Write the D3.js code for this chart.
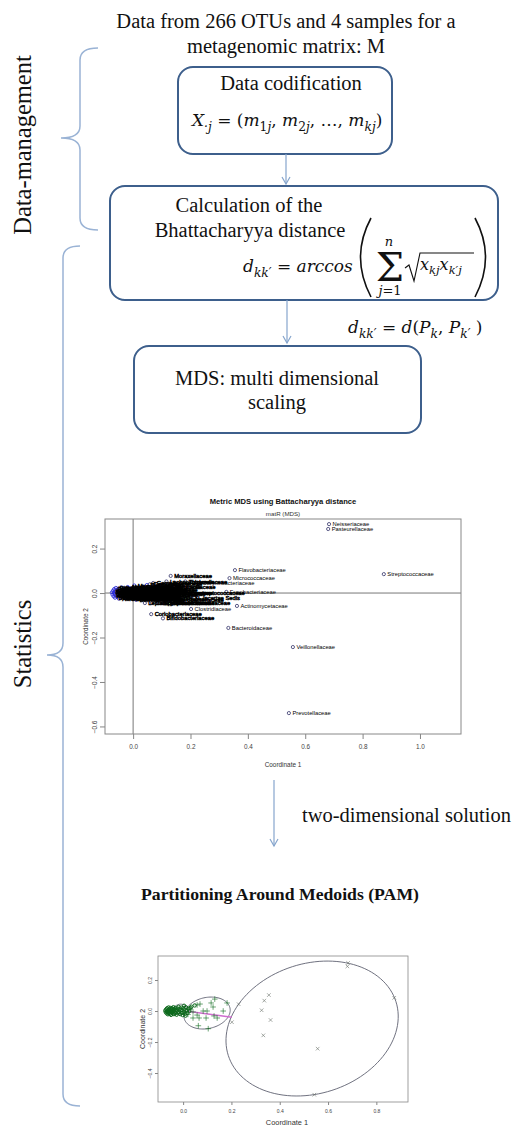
<!DOCTYPE html>
<html lang="en">
  <head>
    <meta charset='utf-8'>
    <script src='https://d3js.org/d3.v7.min.js'></script>
    <title>OTU distance workflow</title>
    <style>
      body {
        margin: 0px;
        background: #fff;
      }
      .flow-text {
        font-family: 'Liberation Serif', 'Times New Roman', Times, 'DejaVu Serif', serif;
        fill: #111;
      }
      .math {
        font-family: 'DejaVu Serif', 'Liberation Serif', serif;
        fill: #111;
      }
      .r-text {
        font-family: 'Liberation Sans', Arial, sans-serif;
        fill: #333;
      }
      .tick text {
        font-family: 'Liberation Sans', Arial, sans-serif;
        fill: #444;
      }
    </style>
  </head>
  <body>
    <svg id='viz' width='517' height='1126'></svg>
    <script>

      // texts of the workflow
      const titleLines = ['Data from 266 OTUs and 4 samples for a', 'metagenomic matrix: M'];
      const codifLabel = 'Data codification';
      const distLines = ['Calculation of the', 'Bhattacharyya distance'];
      const mdsLines = ['MDS: multi dimensional', 'scaling'];
      const solutionLabel = 'two-dimensional solution';
      const pamTitle = 'Partitioning Around Medoids (PAM)';

      // MDS coordinates: [family, coordinate 1, coordinate 2]
      // cluster 3 of PAM (big ellipse)
      const farOTUs = [
        ['Neisseriaceae', 0.683, 0.310],
        ['Pasteurellaceae', 0.680, 0.288],
        ['Streptococcaceae', 0.874, 0.085],
        ['Flavobacteriaceae', 0.355, 0.103],
        ['Micrococcaceae', 0.336, 0.067],
        ['Corynebacteriaceae', 0.230, 0.044],
        ['Fusobacteriaceae', 0.325, 0.005],
        ['Actinomycetaceae', 0.362, -0.058],
        ['Clostridiaceae', 0.202, -0.072],
        ['Bacteroidaceae', 0.332, -0.157],
        ['Veillonellaceae', 0.557, -0.243],
        ['Prevotellaceae', 0.543, -0.540]
      ];
      // cluster 2 (middle ellipse)
      const midOTUs = [
        ['Lachnospiraceae', 0.116, 0.052],
        ['Moraxellaceae', 0.131, 0.077],
        ['Gemellaceae', 0.070, 0.045],
        ['Carnobacteriaceae', 0.058, 0.039],
        ['Lactobacillaceae', 0.124, 0.026],
        ['Peptostreptococcaceae', 0.166, 0.000],
        ['Staphylococcaceae', 0.083, 0.000],
        ['Ruminococcaceae', 0.099, 0.000],
        ['Porphyromonadaceae', 0.041, -0.006],
        ['Propionibacteriaceae', 0.058, -0.026],
        ['Leptotrichiaceae', 0.041, -0.045],
        ['Campylobacteraceae', 0.066, -0.045],
        ['Erysipelotrichaceae', 0.095, -0.045],
        ['Enterobacteriaceae', 0.128, -0.032],
        ['Pseudomonadaceae', 0.141, -0.045],
        ['Clostridiales Family XI. Incertae Sedis', 0.020, -0.022],
        ['Coriobacteriaceae', 0.063, -0.095],
        ['Bifidobacteriaceae', 0.104, -0.114],
        ['Tissierellaceae', 0.182, 0.052],
        ['Streptomycetaceae', 0.029, 0.013]
      ];
      // cluster 1 (small ellipse, the crowd near the origin)
      const coreOTUs = [
        ['Bacillaceae', -0.074, 0.003], ['Enterococcaceae', -0.072, -0.007],
        ['Leuconostocaceae', -0.070, 0.011], ['Aerococcaceae', -0.068, -0.015],
        ['Listeriaceae', -0.067, 0.001], ['Paenibacillaceae', -0.066, 0.018],
        ['Planococcaceae', -0.064, -0.005], ['Burkholderiaceae', -0.063, -0.021],
        ['Comamonadaceae', -0.062, 0.008], ['Rhodobacteraceae', -0.060, 0.023],
        ['Caulobacteraceae', -0.059, -0.012], ['Sphingomonadaceae', -0.058, 0.000],
        ['Bradyrhizobiaceae', -0.056, 0.014], ['Methylobacteriaceae', -0.055, -0.018],
        ['Rhizobiaceae', -0.054, 0.006], ['Xanthomonadaceae', -0.052, -0.004],
        ['Vibrionaceae', -0.051, 0.020], ['Aeromonadaceae', -0.050, -0.025],
        ['Shewanellaceae', -0.048, 0.010], ['Helicobacteraceae', -0.047, -0.010],
        ['Desulfovibrionaceae', -0.046, 0.002], ['Eubacteriaceae', -0.045, 0.016],
        ['Peptococcaceae', -0.044, -0.016], ['Acidaminococcaceae', -0.042, 0.006],
        ['Mycoplasmataceae', -0.041, -0.002], ['Spirochaetaceae', -0.040, 0.025],
        ['Leptospiraceae', -0.038, -0.020], ['Chlamydiaceae', -0.037, 0.012],
        ['Verrucomicrobiaceae', -0.035, -0.008], ['Nocardiaceae', -0.034, 0.004],
        ['Microbacteriaceae', -0.032, 0.020], ['Cellulomonadaceae', -0.031, -0.014],
        ['Dermabacteraceae', -0.029, 0.008], ['Intrasporangiaceae', -0.027, -0.024],
        ['Gordoniaceae', -0.025, 0.002], ['Nocardioidaceae', -0.023, 0.016],
        ['Thermoactinomycetaceae', -0.021, -0.010], ['Alcaligenaceae', -0.019, 0.027],
        ['Oxalobacteraceae', -0.017, -0.004], ['Legionellaceae', -0.015, 0.012],
        ['Francisellaceae', -0.012, -0.020], ['Cardiobacteriaceae', -0.010, 0.006],
        ['Thermaceae', -0.008, 0.022], ['Deinococcaceae', -0.005, -0.012],
        ['Nostocaceae', -0.003, 0.004], ['Synechococcaceae', 0.000, 0.018],
        ['Chloroflexaceae', 0.003, -0.008], ['Bdellovibrionaceae', 0.006, 0.010],
        ['Myxococcaceae', 0.009, -0.018], ['Geobacteraceae', 0.012, 0.024],
        ['Halomonadaceae', 0.015, 0.002], ['Alteromonadaceae', 0.018, -0.012],
        ['Psychromonadaceae', 0.022, 0.014], ['Idiomarinaceae', 0.026, 0.000],
        ['Rikenellaceae', 0.030, 0.020], ['Sphingobacteriaceae', 0.034, 0.028],
        ['Mycobacteriaceae', 0.004, 0.034], ['Dietziaceae', 0.048, 0.036],
        ['Brevibacteriaceae', -0.002, -0.026], ['Dermacoccaceae', 0.010, -0.030]
      ];

      const mdsTicksX = [0, 0.2, 0.4, 0.6, 0.8, 1.0];
      const mdsTicksY = [0.2, 0, -0.2, -0.4, -0.6];
      const pamTicksX = [0, 0.2, 0.4, 0.6, 0.8];
      const pamTicksY = [0.2, 0, -0.2, -0.4];

      // PAM cluster ellipses: centre and two conjugate half-axes (data units)
      const ellipseCenter = [[-0.010, 0.010], [0.099, -0.013], [0.534, -0.113]];
      const ellipseU = [[0.028, 0], [0.095, 0.032], [0.347, 0.174]];
      const ellipseV = [[0, 0.034], [0.013, -0.098], [0.082, -0.399]];
      const medoidLink = [[0.018, -0.002], [0.202, -0.040]];

      const boxColor = '#3d5f8c';
      const arrowColor = '#86a5cd';
      const braceColor = '#9ab3d5';
      const serifSize = 20.5;

      const svg = d3.select('#viz');
      svg.append('rect').attr('width', 517).attr('height', 1126).attr('fill', '#fff');

      //---------- flow chart part ----------
      svg.selectAll('.title').data(titleLines).enter().append('text')
        .attr('class', 'flow-text title')
        .attr('x', 286)
        .attr('y', (d, i) => 28 + i * 25)
        .attr('text-anchor', 'middle')
        .style('font-size', serifSize + 'px')
        .text(d => d);

      // braces
      svg.append('path')
        .attr('d', 'M98,48 Q80,48 80,60 L80,126 Q80,138 61,138 Q80,138 80,150 L80,218 Q80,230 98,230')
        .attr('fill', 'none').attr('stroke', braceColor).attr('stroke-width', 1.5);
      svg.append('path')
        .attr('d', 'M80,246 Q63,246 63,258 L63,643 Q63,655 47,655 Q63,655 63,667 L63,1094 Q63,1106 80,1106')
        .attr('fill', 'none').attr('stroke', braceColor).attr('stroke-width', 1.5);

      const sideLabel = (txt, cy) => svg.append('text')
        .attr('class', 'flow-text')
        .attr('transform', `translate(31,${cy}) rotate(-90)`)
        .attr('text-anchor', 'middle')
        .style('font-size', '24.5px')
        .text(txt);
      sideLabel('Data-management', 145);
      sideLabel('Statistics', 644);

      // rounded boxes
      const boxes = [
        {x: 178, y: 67, w: 214, h: 87},
        {x: 110, y: 186, w: 388, h: 114},
        {x: 134, y: 346, w: 287, h: 87}
      ];
      svg.selectAll('.box').data(boxes).enter().append('rect')
        .attr('class', 'box')
        .attr('x', d => d.x).attr('y', d => d.y)
        .attr('width', d => d.w).attr('height', d => d.h)
        .attr('rx', 15).attr('ry', 15)
        .attr('fill', '#fff').attr('stroke', boxColor).attr('stroke-width', 2);

      const flowText = (txt, x, y) => svg.append('text')
        .attr('class', 'flow-text')
        .attr('x', x).attr('y', y)
        .attr('text-anchor', 'middle')
        .style('font-size', serifSize + 'px')
        .text(txt);
      flowText(codifLabel, 291, 90);
      flowText(distLines[0], 249, 212);
      flowText(distLines[1], 250, 237);
      flowText(mdsLines[0], 277, 385);
      flowText(mdsLines[1], 277, 409);
      svg.append('text').attr('class', 'flow-text')
        .attr('x', 302).attr('y', 822)
        .style('font-size', serifSize + 'px')
        .text(solutionLabel);

      // arrows
      const arrow = (x, y0, y1) => {
        svg.append('line').attr('x1', x).attr('x2', x).attr('y1', y0).attr('y2', y1)
          .attr('stroke', arrowColor).attr('stroke-width', 1.2);
        svg.append('path').attr('d', `M${x - 4},${y1 - 7} L${x},${y1} L${x + 4},${y1 - 7}`)
          .attr('fill', 'none').attr('stroke', arrowColor).attr('stroke-width', 1.2);
      };
      arrow(286, 154, 184);
      arrow(287, 300, 343);
      arrow(274, 780, 846);

      // math: segments are [text, italic, subscript]
      const mathText = (x, y, size, segs) => {
        const t = svg.append('text').attr('class', 'math')
          .attr('x', x).attr('y', y).style('font-size', size + 'px');
        let low = false;
        segs.forEach(s => {
          const ts = t.append('tspan').text(s[0])
            .style('font-style', s[1] ? 'italic' : 'normal');
          if (s[2]) {
            ts.style('font-size', (size * 0.72) + 'px');
            if (!low) ts.attr('dy', size * 0.28);
            low = true;
          } else if (low) {
            ts.attr('dy', -size * 0.28);
            low = false;
          }
        });
        return t;
      };

      mathText(192, 126, 17, [
        ['X', 1, 0], ['\u00b7j', 1, 1], [' = (', 0, 0],
        ['m', 1, 0], ['1', 0, 1], ['j', 1, 1], [', ', 0, 0],
        ['m', 1, 0], ['2', 0, 1], ['j', 1, 1], [', \u2026, ', 0, 0],
        ['m', 1, 0], ['kj', 1, 1], [')', 0, 0]
      ]);

      mathText(243, 272, 17, [
        ['d', 1, 0], ['kk\u2032', 1, 1], [' = ', 0, 0], ['arccos', 1, 0]
      ]);
      // big parentheses, sum and root
      svg.append('path').attr('d', 'M371,218 Q350,257 371,297')
        .attr('fill', 'none').attr('stroke', '#111').attr('stroke-width', 1.6);
      svg.append('path').attr('d', 'M475,218 Q496,257 475,297')
        .attr('fill', 'none').attr('stroke', '#111').attr('stroke-width', 1.6);
      svg.append('text').attr('class', 'math')
        .attr('x', 390).attr('y', 281).attr('text-anchor', 'middle')
        .style('font-size', '40px').text('\u03a3');
      svg.append('text').attr('class', 'math')
        .attr('x', 389).attr('y', 246).attr('text-anchor', 'middle')
        .style('font-size', '13px').style('font-style', 'italic').text('n');
      svg.append('text').attr('class', 'math')
        .attr('x', 390).attr('y', 295).attr('text-anchor', 'middle')
        .style('font-size', '13px')
        .html('<tspan font-style="italic">j</tspan>=1');
      svg.append('path').attr('d', 'M405,268 L409,265 L414,281 L420,253 L474,253')
        .attr('fill', 'none').attr('stroke', '#111').attr('stroke-width', 1.1);
      mathText(420, 270, 16, [
        ['x', 1, 0], ['kj', 1, 1], ['x', 1, 0], ['k\u2032j', 1, 1]
      ]);

      mathText(348, 333, 17, [
        ['d', 1, 0], ['kk\u2032', 1, 1], [' = ', 0, 0], ['d', 1, 0], ['(', 0, 0],
        ['P', 1, 0], ['k', 1, 1], [', ', 0, 0], ['P', 1, 0], ['k\u2032', 1, 1], [' )', 0, 0]
      ]);

      //---------- R plots ----------
      const allOTUs = coreOTUs.map(d => ({name: d[0], x: d[1], y: d[2], cl: 1}))
        .concat(midOTUs.map(d => ({name: d[0], x: d[1], y: d[2], cl: 2})))
        .concat(farOTUs.map(d => ({name: d[0], x: d[1], y: d[2], cl: 3})));

      const styleAxis = (g, size) => {
        g.selectAll('.tick line').attr('stroke', '#666').attr('stroke-width', 0.8);
        g.selectAll('.domain').remove();
        g.selectAll('.tick text').style('font-size', size + 'px');
      };

      // MDS scatter
      const xM = d3.scaleLinear().domain([-0.098, 1.143]).range([105, 461]);
      const yM = d3.scaleLinear().domain([-0.634, 0.333]).range([734, 519]);
      const mds = svg.append('g');

      mds.append('text').attr('class', 'r-text')
        .attr('x', 283).attr('y', 504).attr('text-anchor', 'middle')
        .style('font-size', '7.6px').style('font-weight', 'bold').style('fill', '#111')
        .text('Metric MDS using Battacharyya distance');
      mds.append('text').attr('class', 'r-text')
        .attr('x', 283).attr('y', 516).attr('text-anchor', 'middle')
        .style('font-size', '6.2px').text('matR (MDS)');

      mds.append('line')
        .attr('x1', xM(0)).attr('x2', xM(0)).attr('y1', yM.range()[0]).attr('y2', yM.range()[1])
        .attr('stroke', '#555').attr('stroke-width', 0.8);
      mds.append('line')
        .attr('x1', xM.range()[0]).attr('x2', xM.range()[1]).attr('y1', yM(0)).attr('y2', yM(0))
        .attr('stroke', '#555').attr('stroke-width', 0.8);

      const xAxisM = mds.append('g').attr('transform', `translate(0,${yM.range()[0]})`)
        .call(d3.axisBottom(xM).tickValues(mdsTicksX).tickFormat(d3.format('.1f')).tickSize(5).tickPadding(5));
      styleAxis(xAxisM, 6.4);
      const yAxisM = mds.append('g').attr('transform', `translate(${xM.range()[0]},0)`)
        .call(d3.axisLeft(yM).tickValues(mdsTicksY).tickFormat(d3.format('.1f')).tickSize(5).tickPadding(0));
      styleAxis(yAxisM, 6.4);
      yAxisM.selectAll('.tick text')
        .attr('x', 0).attr('y', -8).attr('dy', 0)
        .attr('transform', 'rotate(-90)').attr('text-anchor', 'middle');

      mds.append('rect')
        .attr('x', xM.range()[0]).attr('y', yM.range()[1])
        .attr('width', xM.range()[1] - xM.range()[0]).attr('height', yM.range()[0] - yM.range()[1])
        .attr('fill', 'none').attr('stroke', '#888').attr('stroke-width', 1);

      // points first, the labels are written over them
      mds.selectAll('.otu').data(allOTUs).enter().append('circle')
        .attr('class', 'otu')
        .attr('cx', d => xM(d.x)).attr('cy', d => yM(d.y))
        .attr('r', 1.6)
        .attr('fill', 'none')
        .attr('stroke', d => d.cl === 1 ? '#2222d4' : '#34346a')
        .attr('stroke-width', 0.8);
      mds.selectAll('.otu-label').data(allOTUs).enter().append('text')
        .attr('class', 'r-text otu-label')
        .attr('x', d => xM(d.x) + 3.5).attr('y', d => yM(d.y))
        .attr('dy', '0.35em')
        .style('font-size', '5.8px').style('fill', '#000')
        .style('stroke', d => d.cl === 3 ? 'none' : '#000')
        .style('stroke-width', 0.45)
        .text(d => d.name);

      mds.append('text').attr('class', 'r-text')
        .attr('x', 283).attr('y', 767).attr('text-anchor', 'middle')
        .style('font-size', '6.4px').text('Coordinate 1');
      mds.append('text').attr('class', 'r-text')
        .attr('transform', `translate(88,${(yM.range()[0] + yM.range()[1]) / 2}) rotate(-90)`)
        .attr('text-anchor', 'middle')
        .style('font-size', '6.4px').text('Coordinate 2');

      // PAM title
      svg.append('text').attr('class', 'flow-text')
        .attr('x', 280).attr('y', 900).attr('text-anchor', 'middle')
        .style('font-size', '17.7px').style('font-weight', 'bold')
        .text(pamTitle);

      // clusplot of PAM
      const xP = d3.scaleLinear().domain([-0.104, 0.931]).range([158, 408]);
      const yP = d3.scaleLinear().domain([-0.587, 0.355]).range([1102, 956]);
      const pam = svg.append('g');

      const xAxisP = pam.append('g').attr('transform', `translate(0,${yP.range()[0]})`)
        .call(d3.axisBottom(xP).tickValues(pamTicksX).tickFormat(d3.format('.1f')).tickSize(3).tickPadding(4));
      styleAxis(xAxisP, 5);
      const yAxisP = pam.append('g').attr('transform', `translate(${xP.range()[0]},0)`)
        .call(d3.axisLeft(yP).tickValues(pamTicksY).tickFormat(d3.format('.1f')).tickSize(3).tickPadding(0));
      styleAxis(yAxisP, 5);
      yAxisP.selectAll('.tick text')
        .attr('x', 0).attr('y', -6).attr('dy', 0)
        .attr('transform', 'rotate(-90)').attr('text-anchor', 'middle');

      pam.append('rect')
        .attr('x', xP.range()[0]).attr('y', yP.range()[1])
        .attr('width', xP.range()[1] - xP.range()[0]).attr('height', yP.range()[0] - yP.range()[1])
        .attr('fill', 'none').attr('stroke', '#888').attr('stroke-width', 0.8);

      const ellipsePath = i => {
        const c = ellipseCenter[i], u = ellipseU[i], v = ellipseV[i];
        const pts = d3.range(0, 361, 3).map(deg => {
          const t = deg * Math.PI / 180;
          return [xP(c[0] + u[0] * Math.cos(t) + v[0] * Math.sin(t)),
                  yP(c[1] + u[1] * Math.cos(t) + v[1] * Math.sin(t))];
        });
        return d3.line()(pts);
      };
      pam.selectAll('.ell').data(ellipseCenter).enter().append('path')
        .attr('class', 'ell')
        .attr('d', (d, i) => ellipsePath(i))
        .attr('fill', 'none').attr('stroke', '#5f6170').attr('stroke-width', 0.9);

      pam.append('path')
        .attr('d', d3.line().x(d => xP(d[0])).y(d => yP(d[1]))(medoidLink))
        .attr('stroke', '#cf6fcf').attr('stroke-width', 1.6).attr('fill', 'none');

      const plusType = d3.symbolPlus || d3.symbolCross;
      const timesType = d3.symbolTimes || d3.symbolCross;
      const symbolFor = d => d.cl === 1 ? d3.symbol(d3.symbolCircle, 9)()
        : d.cl === 2 ? d3.symbol(plusType, 12)() : d3.symbol(timesType, 10)();
      pam.selectAll('.pt').data(allOTUs).enter().append('path')
        .attr('class', 'pt')
        .attr('transform', d => `translate(${xP(d.x)},${yP(d.y)})`)
        .attr('d', symbolFor)
        .attr('fill', 'none')
        .attr('stroke', d => d.cl === 3 ? '#6a706a' : '#0d6a1d')
        .attr('stroke-width', d => d.cl === 1 ? 1 : 0.6);

      pam.append('text').attr('class', 'r-text')
        .attr('x', 287).attr('y', 1125).attr('text-anchor', 'middle')
        .style('font-size', '7.4px').text('Coordinate 1');
      pam.append('text').attr('class', 'r-text')
        .attr('transform', `translate(145,${(yP.range()[0] + yP.range()[1]) / 2}) rotate(-90)`)
        .attr('text-anchor', 'middle')
        .style('font-size', '7px').text('Coordinate 2');

    </script>
  </body>
</html>
